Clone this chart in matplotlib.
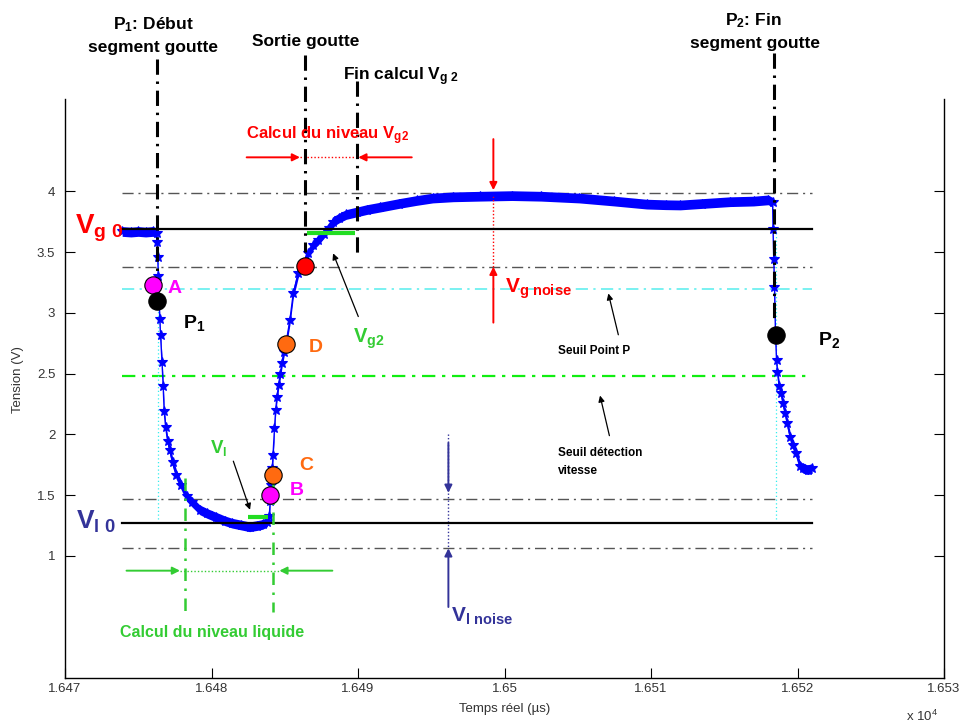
import matplotlib
matplotlib.use('Agg')
import matplotlib.pyplot as plt
from matplotlib.ticker import FuncFormatter

plt.rcParams['font.family'] = ['Liberation Sans', 'DejaVu Sans']
plt.rcParams['mathtext.fontset'] = 'custom'
plt.rcParams['mathtext.rm'] = 'Liberation Sans'
plt.rcParams['mathtext.it'] = 'Liberation Sans:italic'
plt.rcParams['mathtext.bf'] = 'Liberation Sans:bold'

# ---------------- data ----------------
time_us = [16473.9, 16474.5, 16475.0, 16475.5, 16476.0, 16476.25,
           16476.30, 16476.33, 16476.37, 16476.42, 16476.47, 16476.52, 16476.62,
           16476.70, 16476.77, 16476.87, 16477.0, 16477.15, 16477.35, 16477.6,
           16477.95, 16478.3, 16478.7, 16479.2, 16479.7, 16480.3, 16480.9,
           16481.4, 16482.0, 16482.6, 16483.1, 16483.5, 16483.8, 16483.95,
           16484.0, 16484.07, 16484.15, 16484.2, 16484.3, 16484.38, 16484.47,
           16484.58, 16484.70, 16484.81, 16484.95, 16485.1, 16485.35, 16485.58,
           16485.92, 16486.3, 16486.6, 16486.95, 16487.3, 16487.65, 16488.0,
           16488.3, 16488.7, 16489.2, 16489.9, 16490.6, 16491.5, 16492.8,
           16494.0, 16495.1, 16496.5, 16498.3, 16500.5, 16502.5, 16505.1,
           16507.5, 16509.7, 16511.0, 16512.0, 16513.5, 16515.4, 16517.0,
           16518.0, 16518.3,
           16518.33, 16518.38, 16518.43, 16518.50, 16518.57, 16518.63, 16518.75,
           16518.88, 16519.0, 16519.15, 16519.3, 16519.5, 16519.7, 16519.9,
           16520.17, 16520.4, 16520.7, 16521.0]
tension_v = [3.67, 3.665, 3.67, 3.665, 3.67, 3.66,
             3.58, 3.46, 3.30, 3.10, 2.95, 2.82, 2.60,
             2.40, 2.19, 2.06, 1.95, 1.87, 1.77, 1.67,
             1.58, 1.49, 1.44, 1.38, 1.35, 1.32, 1.29,
             1.27, 1.255, 1.24, 1.25, 1.26, 1.28, 1.33,
             1.45, 1.58, 1.72, 1.83, 2.05, 2.20, 2.31,
             2.41, 2.50, 2.59, 2.68, 2.76, 2.94, 3.16,
             3.33, 3.41, 3.49, 3.56, 3.60, 3.65, 3.70,
             3.75, 3.78, 3.81, 3.83, 3.85, 3.87, 3.90,
             3.925, 3.945, 3.955, 3.96, 3.965, 3.96, 3.945,
             3.92, 3.895, 3.89, 3.888, 3.90, 3.915, 3.92,
             3.93, 3.91,
             3.69, 3.44, 3.21, 2.82, 2.61, 2.51, 2.40,
             2.34, 2.26, 2.18, 2.09, 1.98, 1.91, 1.85,
             1.74, 1.72, 1.71, 1.72]
noise_half_width = 0.04

# reference levels (V)
vg0_level = 3.69
vl0_level = 1.27
vg_noise_levels = [3.99, 3.38]
vl_noise_levels = [1.47, 1.063]
seuil_point_p = 3.20
seuil_vitesse = 2.48
level_t_start, level_t_end = 16473.9, 16521.0

# key points
pt_names = ['A', 'P1', 'Sortie', 'D', 'C', 'B', 'P2']
pt_time = [16476.0, 16476.25, 16486.38, 16485.1, 16484.18, 16484.02, 16518.5]
pt_volt = [3.23, 3.10, 3.39, 2.74, 1.67, 1.50, 2.82]
pt_color = ['#ff00ff', '#000000', '#ff0000', '#ff6a10', '#ff6a10', '#ff00ff', '#000000']

# calculation windows
vg2_window = [16486.54, 16489.80]
vg2_value = 3.657
vl_window = [16482.51, 16483.88]
vl_value = 1.323

# event times
t_p1 = 16476.25
t_sortie = 16486.38
t_fin_vg2 = 16489.95
t_p2 = 16518.4
t_liq_start = 16478.21
t_liq_end = 16484.22

xticks = [16470, 16480, 16490, 16500, 16510, 16520, 16530]
yticks = [1, 1.5, 2, 2.5, 3, 3.5, 4]

# ---------------- figure ----------------
fig = plt.figure(figsize=(9.65, 7.25), dpi=100)
ax = fig.add_axes([65/965, 1-677.5/725, 879/965, 578.5/725])
ax.set_xlim(16470, 16530)
ax.set_ylim(0, 4.76)

dashdot = (8, 3.5, 1.5, 3.5)
gray = '#555555'

# horizontal reference lines
for lv in vg_noise_levels + vl_noise_levels:
    ax.plot([level_t_start, level_t_end], [lv, lv], color=gray, lw=1.0,
            dashes=dashdot, zorder=1)
ax.plot([level_t_start, level_t_end], [seuil_point_p]*2, color='#55eeee', lw=1.1,
        dashes=dashdot, zorder=1)
ax.plot([level_t_start, level_t_end], [seuil_vitesse]*2, color='#11ee11', lw=1.6,
        dashes=(6, 3, 1.5, 3), zorder=1)

# cyan dotted verticals at P1 / P2
for tt in [16476.35, 16518.55]:
    ax.plot([tt, tt], [vg0_level, vl0_level], color='#33eeee', lw=0.9, ls=(0, (1, 2)), zorder=1)

# signal
lower = [v - noise_half_width for v in tension_v]
upper = [v + noise_half_width for v in tension_v]
ax.fill_between(time_us, lower, upper, color='#0000ff', lw=0, zorder=2)
ax.plot(time_us, tension_v, color='#0000ff', lw=1.0, marker='*', ms=7.5,
        mew=0.8, zorder=3)

# black level lines
ax.plot([level_t_start, level_t_end], [vg0_level]*2, color='black', lw=1.6, zorder=4)
ax.plot([level_t_start, level_t_end], [vl0_level]*2, color='black', lw=1.6, zorder=4)

# green calculation bars
ax.plot(vg2_window, [vg2_value]*2, color='#22dd22', lw=3, solid_capstyle='butt', zorder=5)
ax.plot(vl_window, [vl_value]*2, color='#22dd22', lw=3, solid_capstyle='butt', zorder=5)

# black vertical event lines
blk_dd = (5, 2.2, 0.8, 2.2)
ax.plot([t_p1, t_p1], [5.09, 3.33], color='black', lw=2.2, dashes=blk_dd, clip_on=False, zorder=6)
ax.plot([t_sortie, t_sortie], [5.12, 3.50], color='black', lw=2.2, dashes=blk_dd, clip_on=False, zorder=6)
ax.plot([t_fin_vg2, t_fin_vg2], [4.91, 3.45], color='black', lw=2.2, dashes=blk_dd, clip_on=False, zorder=6)
ax.plot([t_p2, t_p2], [5.14, 2.94], color='black', lw=2.2, dashes=blk_dd, clip_on=False, zorder=6)

# green vertical liquid window lines
gcol = '#33cc33'
ax.plot([t_liq_start]*2, [1.64, 0.53], color=gcol, lw=1.8, dashes=(5, 3, 1, 3), zorder=6)
ax.plot([t_liq_end]*2, [1.61, 0.54], color=gcol, lw=1.8, dashes=(5, 3, 1, 3), zorder=6)

# key points
for t, v, c in zip(pt_time, pt_volt, pt_color):
    ax.plot([t], [v], 'o', ms=12.5, mfc=c, mec='black', mew=0.8, zorder=8)

def arrow(x0, y0, x1, y1, color, lw=1.4, ms=11):
    ax.annotate('', xy=(x1, y1), xytext=(x0, y0),
                arrowprops=dict(arrowstyle='-|>', color=color, lw=lw,
                                mutation_scale=ms, shrinkA=0, shrinkB=0),
                annotation_clip=False, zorder=7)

# red Vg2 window arrows
arrow(16482.4, 4.28, 16486.04, 4.28, 'red')
arrow(16493.67, 4.28, 16490.02, 4.28, 'red')
ax.plot([16486.04, 16490.02], [4.28, 4.28], color='red', lw=1.0, ls=(0, (1, 1.5)))

# green liquid window arrows
arrow(16474.2, 0.879, 16477.85, 0.879, gcol)
arrow(16488.25, 0.879, 16484.63, 0.879, gcol)
ax.plot([16477.85, 16484.63], [0.879, 0.879], color=gcol, lw=1.0, ls=(0, (1, 1.5)))

# red Vg noise arrows
arrow(16499.24, 4.43, 16499.24, 4.01, 'red')
arrow(16499.24, 2.92, 16499.24, 3.38, 'red')
ax.plot([16499.24, 16499.24], [3.96, 3.38], color='red', lw=1.0, ls=(0, (1, 1.5)))

# blue Vl noise arrows
bcol = '#333399'
arrow(16496.17, 1.93, 16496.17, 1.52, bcol)
arrow(16496.17, 0.58, 16496.17, 1.063, bcol)
ax.plot([16496.17, 16496.17], [2.0, 1.063], color=bcol, lw=1.0, ls=(0, (1, 1.5)))

# black thin annotation arrows
arrow(16490.02, 2.97, 16488.3, 3.49, 'black', lw=0.9, ms=9)
arrow(16481.49, 1.78, 16482.63, 1.38, 'black', lw=0.9, ms=9)
arrow(16507.77, 2.82, 16507.09, 3.16, 'black', lw=0.9, ms=9)
arrow(16507.16, 1.99, 16506.52, 2.32, 'black', lw=0.9, ms=9)

# ---------------- texts ----------------
def txt(x, y, s, color='black', size=12.5, ha='left'):
    ax.text(x, y, s, color=color, fontsize=size, fontweight='bold', ha=ha,
            va='baseline', clip_on=False, zorder=9)

txt(16476.0, 5.332, r'$\mathbf{P_1}$: Début', ha='center')
txt(16476.0, 5.148, 'segment goutte', ha='center')
txt(16486.45, 5.194, 'Sortie goutte', ha='center')
txt(16488.98, 4.912, r'Fin calcul $\mathbf{V_{g\ 2}}$')
txt(16517.0, 5.367, r'$\mathbf{P_2}$: Fin', ha='center')
txt(16517.1, 5.181, 'segment goutte', ha='center')
txt(16482.36, 4.432, r'Calcul du niveau $\mathbf{V_{g2}}$', color='red', size=12)
txt(16470.68, 3.657, r'$\mathbf{V_{g\ 0}}$', color='red', size=20)
txt(16470.72, 1.227, r'$\mathbf{V_{l\ 0}}$', color=bcol, size=19)
txt(16477.03, 3.163, 'A', color='#ff00ff', size=14)
txt(16478.05, 2.875, r'$\mathbf{P_1}$', size=14)
txt(16486.66, 2.682, 'D', color='#ff6a10', size=14)
txt(16489.68, 2.751, r'$\mathbf{V_{g2}}$', color=gcol, size=14.5)
txt(16486.0, 1.707, 'C', color='#ff6a10', size=14)
txt(16485.36, 1.502, 'B', color='#ff00ff', size=14)
txt(16479.9, 1.845, r'$\mathbf{V_l}$', color=gcol, size=13.5)
txt(16500.03, 3.163, r'$\mathbf{V_{g\ noise}}$', color='red', size=15)
txt(16503.67, 2.663, 'Seuil Point P', size=8.5)
txt(16503.63, 1.823, 'Seuil détection', size=8.5)
txt(16503.63, 1.675, 'vitesse', size=8.5)
txt(16473.75, 0.334, 'Calcul du niveau liquide', color=gcol, size=11.5)
txt(16496.33, 0.458, r'$\mathbf{V_{l\ noise}}$', color=bcol, size=15)
txt(16521.42, 2.737, r'$\mathbf{P_2}$', size=14)

# ---------------- axes styling ----------------
ax.spines['top'].set_visible(False)
for s in ['left', 'right', 'bottom']:
    ax.spines[s].set_linewidth(1.0)
ax.set_xticks(xticks)
ax.set_yticks(yticks)
ax.xaxis.set_major_formatter(FuncFormatter(lambda x, p: '%g' % (x / 1e4)))
ax.yaxis.set_major_formatter(FuncFormatter(lambda y, p: '%g' % y))
ax.tick_params(axis='both', direction='in', length=7, width=0.8,
               labelsize=9.5, labelcolor='#333333')
ax.tick_params(axis='y', right=True, pad=7)
ax.tick_params(axis='x', top=False, pad=4)

fig.text(505/965, 1-709/725, 'Temps réel (µs)', ha='center', va='center',
         fontsize=9.5, color='#333333')
fig.text(18/965, 1-380/725, 'Tension (V)', ha='center', va='center',
         rotation=90, fontsize=9.5, color='#333333')
fig.text(922/965, 1-716/725, r'x 10$^4$', ha='center', va='center',
         fontsize=9.5, color='#333333')

fig.savefig('out.png', dpi=100)
